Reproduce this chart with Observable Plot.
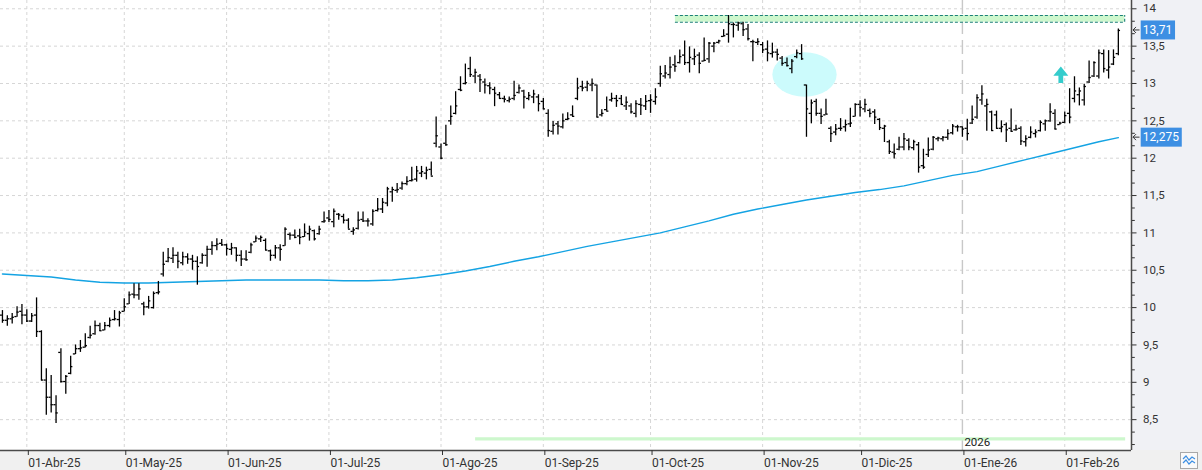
<!DOCTYPE html>
<html><head><meta charset="utf-8">
<script src="https://cdn.jsdelivr.net/npm/d3@7"></script>
<script src="https://cdn.jsdelivr.net/npm/@observablehq/plot@0.6"></script>
<style>html,body{margin:0;padding:0;background:#fff;} svg{display:block}</style>
</head><body><div id="chart"></div>
<script>
// ---- Daily OHLC (one value per trading day, 25-Mar-2025 .. 17-Feb-2026) ----
const high = [
9.96,9.89,9.92,10.01,10.04,9.97,9.92,10.13,9.69,9.18,
9.09,8.82,9.45,9.09,9.35,9.50,9.56,9.65,9.75,9.82,
9.79,9.80,9.86,9.96,9.95,10.12,10.21,10.32,10.32,10.07,
10.15,10.21,10.35,10.74,10.79,10.80,10.74,10.74,10.72,10.70,
10.68,10.72,10.82,10.88,10.92,10.91,10.85,10.86,10.80,10.76,
10.76,10.86,10.96,10.96,10.92,10.77,10.83,10.84,11.07,11.00,
11.04,11.05,11.12,11.09,11.04,11.09,11.28,11.30,11.32,11.26,
11.25,11.19,11.07,11.28,11.28,11.19,11.31,11.46,11.46,11.61,
11.61,11.66,11.68,11.75,11.88,11.89,11.89,11.88,11.95,12.55,
12.19,12.44,12.70,12.89,13.09,13.26,13.35,13.19,13.12,13.06,
13.01,12.95,12.88,12.83,12.82,13.03,12.98,12.91,12.88,12.91,
12.85,12.80,12.65,12.49,12.49,12.59,12.61,12.70,13.07,13.03,
13.03,13.06,12.98,12.65,12.82,12.87,12.84,12.84,12.82,12.73,
12.77,12.80,12.84,12.85,12.93,13.23,13.24,13.35,13.37,13.45,
13.57,13.49,13.46,13.41,13.61,13.55,13.55,13.58,13.72,13.91,
13.81,13.82,13.82,13.79,13.58,13.60,13.55,13.57,13.54,13.46,
13.36,13.34,13.32,13.45,13.52,12.98,12.78,12.79,12.66,12.79,
12.42,12.45,12.53,12.51,12.67,12.73,12.77,12.79,12.66,12.65,
12.53,12.44,12.24,12.19,12.28,12.33,12.26,12.24,12.21,12.12,
12.27,12.29,12.28,12.29,12.38,12.45,12.44,12.42,12.52,12.70,
12.85,12.97,12.79,12.63,12.63,12.50,12.47,12.66,12.44,12.42,
12.30,12.42,12.38,12.50,12.51,12.73,12.65,12.48,12.62,12.93,
13.09,12.94,12.99,13.30,13.29,13.45,13.45,13.44,13.45,13.73
];
const low = [
9.79,9.75,9.78,9.87,9.77,9.80,9.80,9.60,9.02,8.56,
8.59,8.45,8.99,8.84,9.10,9.37,9.40,9.46,9.58,9.63,
9.68,9.69,9.73,9.82,9.74,9.94,10.04,10.12,10.10,9.89,
9.98,9.98,10.17,10.41,10.60,10.59,10.52,10.56,10.58,10.50,
10.30,10.58,10.54,10.70,10.76,10.82,10.69,10.70,10.61,10.55,
10.62,10.72,10.87,10.87,10.76,10.62,10.65,10.62,10.82,10.90,
10.92,10.84,10.94,10.89,10.89,10.97,11.13,11.14,11.07,11.17,
11.12,11.05,10.97,11.04,11.14,11.08,11.09,11.28,11.26,11.35,
11.41,11.53,11.57,11.63,11.68,11.68,11.74,11.71,11.76,12.14,
11.98,12.16,12.44,12.58,12.89,12.98,13.08,13.00,12.88,12.86,
12.85,12.69,12.79,12.74,12.74,12.77,12.86,12.66,12.77,12.73,
12.62,12.65,12.28,12.31,12.31,12.39,12.50,12.55,12.77,12.89,
12.89,12.89,12.54,12.55,12.63,12.75,12.68,12.71,12.64,12.59,
12.54,12.57,12.64,12.60,12.71,12.95,13.06,13.06,13.15,13.26,
13.24,13.14,13.24,13.13,13.29,13.27,13.41,13.53,13.62,13.54,
13.61,13.70,13.63,13.57,13.29,13.51,13.40,13.29,13.34,13.30,
13.23,13.22,13.13,13.33,13.31,12.28,12.46,12.56,12.45,12.58,
12.21,12.30,12.36,12.35,12.41,12.55,12.55,12.61,12.54,12.45,
12.37,12.21,12.05,11.99,12.10,12.10,12.10,12.10,11.80,11.85,
12.01,12.10,12.22,12.22,12.24,12.31,12.35,12.28,12.23,12.45,
12.52,12.71,12.36,12.36,12.39,12.34,12.21,12.35,12.36,12.17,
12.15,12.26,12.27,12.35,12.36,12.48,12.38,12.44,12.46,12.46,
12.74,12.70,12.70,13.00,13.08,13.06,13.14,13.06,13.24,13.37
];
const open = [
9.90,9.83,9.85,9.88,9.95,9.90,9.82,9.90,9.68,9.03,
8.80,8.70,9.40,9.01,9.12,9.38,9.45,9.47,9.60,9.65,
9.76,9.70,9.76,9.84,9.84,9.95,10.05,10.18,10.17,10.05,
10.01,10.00,10.20,10.45,10.62,10.66,10.70,10.60,10.68,10.65,
10.62,10.60,10.70,10.78,10.83,10.86,10.84,10.78,10.80,10.70,
10.65,10.74,10.88,10.92,10.90,10.76,10.70,10.80,10.83,10.98,
10.97,10.96,10.95,10.99,11.03,10.99,11.15,11.20,11.15,11.25,
11.22,11.17,11.02,11.06,11.18,11.16,11.12,11.30,11.32,11.40,
11.55,11.57,11.60,11.66,11.70,11.72,11.80,11.80,11.85,12.20,
12.15,12.20,12.50,12.60,12.92,13.00,13.20,13.10,13.10,13.02,
12.97,12.92,12.85,12.80,12.77,12.80,12.88,12.90,12.80,12.82,
12.82,12.76,12.60,12.36,12.46,12.42,12.52,12.58,12.80,12.96,
12.95,12.98,12.98,12.58,12.65,12.78,12.80,12.80,12.70,12.70,
12.60,12.72,12.70,12.77,12.76,13.00,13.10,13.12,13.25,13.28,
13.38,13.28,13.33,13.38,13.30,13.33,13.50,13.55,13.63,13.66,
13.79,13.78,13.80,13.73,13.56,13.55,13.52,13.46,13.40,13.42,
13.34,13.28,13.20,13.36,13.40,12.98,12.60,12.76,12.60,12.58,
12.40,12.35,12.40,12.42,12.46,12.56,12.72,12.66,12.64,12.62,
12.52,12.40,12.22,12.08,12.12,12.15,12.24,12.14,12.18,11.90,
12.05,12.12,12.26,12.26,12.28,12.34,12.42,12.42,12.40,12.47,
12.55,12.78,12.70,12.62,12.58,12.40,12.45,12.40,12.38,12.40,
12.22,12.28,12.33,12.37,12.46,12.50,12.60,12.45,12.48,12.60,
12.80,12.85,12.78,13.02,13.10,13.10,13.40,13.18,13.26,13.40
];
const close = [
9.83,9.85,9.87,9.94,9.90,9.82,9.89,9.68,9.03,8.80,
8.70,8.59,9.01,9.08,9.21,9.45,9.46,9.49,9.63,9.76,
9.69,9.76,9.83,9.85,9.93,10.01,10.17,10.17,10.25,10.01,
10.09,10.19,10.21,10.58,10.67,10.70,10.62,10.68,10.65,10.62,
10.55,10.70,10.78,10.83,10.85,10.84,10.79,10.80,10.70,10.65,
10.64,10.84,10.93,10.94,10.77,10.70,10.80,10.78,11.05,10.97,
10.94,10.94,11.01,11.05,10.92,11.05,11.16,11.18,11.29,11.24,
11.17,11.05,11.04,11.17,11.16,11.16,11.29,11.32,11.41,11.59,
11.58,11.58,11.66,11.69,11.71,11.83,11.82,11.84,11.76,12.30,
12.00,12.18,12.56,12.70,12.91,13.01,13.12,13.15,13.05,12.98,
12.94,12.87,12.80,12.79,12.79,12.84,12.94,12.82,12.84,12.86,
12.73,12.66,12.37,12.44,12.43,12.50,12.53,12.56,12.94,12.94,
13.00,13.00,12.55,12.60,12.63,12.80,12.77,12.72,12.75,12.62,
12.73,12.71,12.76,12.78,12.82,13.13,13.14,13.22,13.23,13.36,
13.28,13.35,13.36,13.27,13.31,13.54,13.54,13.57,13.64,13.80,
13.79,13.81,13.72,13.60,13.56,13.56,13.45,13.41,13.42,13.39,
13.27,13.24,13.30,13.41,13.33,12.66,12.74,12.60,12.56,12.59,
12.33,12.39,12.40,12.45,12.47,12.72,12.68,12.72,12.60,12.55,
12.41,12.43,12.09,12.06,12.15,12.26,12.15,12.22,11.88,11.88,
12.11,12.28,12.27,12.28,12.33,12.43,12.42,12.39,12.33,12.52,
12.81,12.86,12.72,12.37,12.40,12.42,12.38,12.36,12.39,12.23,
12.26,12.35,12.35,12.48,12.50,12.62,12.39,12.47,12.57,12.55,
12.90,12.90,12.96,13.08,13.28,13.41,13.20,13.22,13.35,13.71
];

// ---- Moving average (read at every 5th bar) ----
const maIdx = [0,5,10,15,20,25,30,35,40,45,50,55,60,65,70,75,80,85,90,95,100,105,110,115,120,125,130,135,140,145,150,155,160,165,170,175,180,185,190,195,200,205,210,215,220,225,229];
const maVal = [10.45,10.43,10.41,10.37,10.34,10.33,10.33,10.34,10.35,10.36,10.37,10.37,10.37,10.37,10.36,10.36,10.37,10.40,10.44,10.49,10.55,10.62,10.68,10.75,10.82,10.88,10.94,11.00,11.08,11.16,11.25,11.32,11.38,11.44,11.49,11.54,11.58,11.63,11.70,11.77,11.82,11.90,11.98,12.06,12.14,12.22,12.275];

// ---- Axes ----
const monthIdx = [5,25,46,67,90,111,133,156,176,197,218];
const monthLabels = ["01-Abr-25","01-May-25","01-Jun-25","01-Jul-25","01-Ago-25","01-Sep-25","01-Oct-25","01-Nov-25","01-Dic-25","01-Ene-26","01-Feb-26"];
const yTicks = [8.5,9,9.5,10,10.5,11,11.5,12,12.5,13,13.5,14];
const lastLabels = [13.71, 12.275];

// ---- Annotations ----
const bandIdx = [138.1, 230.3];      // resistance band, bar index range
const bandVal = [13.82, 13.91];      // resistance band, price range
const yearBarIdx = [97.1, 230.5];
const yearBarVal = 8.243;
const yearMarkIdx = 197;
const yearLabel = "2026";
const ellipseAt = [164.7, 13.114];
const ellipseSpan = [6.6, 0.297];
const arrowIdx = 217.3;
const arrowVals = [13.0, 13.22];

const xDomain = [-0.4, 231.7];
const yDomain = [8.087, 14.111];

const fmt = v => String(v).replace(".", ",");
const bars = high.map((h, i) => ({i, h, l: low[i], o: open[i], c: close[i]}));
const ma = maIdx.map((i, k) => ({i, v: maVal[k]}));
const minorTicks = d3.range(8.1667, 14.12, 1/6).filter(v => yTicks.every(t => Math.abs(t - v) > 0.01));

const measure = (() => { const c = document.createElement("canvas").getContext("2d"); return (t, f) => { c.font = f; return c.measureText(t).width; }; })();

const chart = Plot.plot({
  width: 1202, height: 470,
  marginLeft: 0, marginRight: 71, marginTop: 0, marginBottom: 20,
  x: {type: "linear", domain: xDomain},
  y: {domain: yDomain},
  style: {fontFamily: "Roboto", fontSize: "12px", color: "#222", background: "#fff", overflow: "visible"},
  marks: [
    // panels
    (index, scales, values, dims) => {
      const g = d3.create("svg:g");
      g.append("rect").attr("x", dims.width - dims.marginRight).attr("y", 0)
        .attr("width", dims.marginRight).attr("height", dims.height).attr("fill", "#f0f1f5");
      g.append("rect").attr("x", 0).attr("y", dims.height - dims.marginBottom)
        .attr("width", dims.width).attr("height", dims.marginBottom).attr("fill", "#f0f0f0");
      return g.node();
    },
    Plot.ruleY(yTicks, {stroke: "#d6d6d6", strokeDasharray: "3,3"}),
    Plot.ruleX(monthIdx.filter(d => d !== yearMarkIdx), {stroke: "#d6d6d6", strokeDasharray: "3,3"}),
    Plot.ruleX([yearMarkIdx], {stroke: "#c8c8c8", strokeWidth: 1.4, strokeDasharray: "14,6"}),
    // ellipse highlight
    (index, {x, y}) => {
      const cx = x(ellipseAt[0]), cy = y(ellipseAt[1]);
      const rx = x(ellipseAt[0] + ellipseSpan[0]) - cx, ry = cy - y(ellipseAt[1] + ellipseSpan[1]);
      return d3.create("svg:ellipse").attr("cx", cx).attr("cy", cy).attr("rx", rx).attr("ry", ry)
        .attr("fill", "#ccfbfc").node();
    },
    // resistance band
    Plot.rect([0], {x1: bandIdx[0], x2: bandIdx[1], y1: bandVal[0], y2: bandVal[1], fill: "#cdf7cd"}),
    Plot.ruleY(bandVal, {x1: bandIdx[0], x2: bandIdx[1], stroke: "#1b7f78", strokeDasharray: "3,2", strokeWidth: 1.1}),
    Plot.ruleX([bandIdx[1]], {y1: bandVal[0], y2: bandVal[1], stroke: "#1b7f78", strokeDasharray: "3,2", strokeWidth: 1.1}),
    // bottom year bar
    Plot.ruleY([yearBarVal], {x1: yearBarIdx[0], x2: yearBarIdx[1], stroke: "#cdf7cd", strokeWidth: 3.3}),
    // moving average
    Plot.line(ma, {x: "i", y: "v", stroke: "#14a3e3", strokeWidth: 1.4}),
    // OHLC bars
    Plot.ruleX(bars, {x: "i", y1: "l", y2: "h", stroke: "#000", strokeWidth: 1.3}),
    Plot.ruleY(bars, {y: "o", x1: d => d.i - 0.45, x2: "i", stroke: "#000", strokeWidth: 1.3}),
    Plot.ruleY(bars, {y: "c", x1: "i", x2: d => d.i + 0.45, stroke: "#000", strokeWidth: 1.3}),
    // arrow
    (index, {x, y}) => {
      const cx = x(arrowIdx), by = y(arrowVals[0]), ty = y(arrowVals[1]);
      const hy = ty + 9.3;
      return d3.create("svg:path")
        .attr("d", `M${cx},${ty}L${cx+7.5},${hy}L${cx+2.4},${hy}L${cx+2.4},${by}L${cx-2.4},${by}L${cx-2.4},${hy}L${cx-7.5},${hy}Z`)
        .attr("fill", "#35cccc").node();
    },
    Plot.text([yearLabel], {x: yearMarkIdx, y: 8.2, text: d => d, textAnchor: "start", dx: 2, fontSize: 11.5, fill: "#222"}),
    // axis lines
    Plot.ruleX([xDomain[1]], {stroke: "#4a4a4a", strokeWidth: 1.5}),
    Plot.ruleY([yDomain[0]], {stroke: "#4a4a4a", strokeWidth: 1.5}),
    Plot.axisY(yTicks, {anchor: "right", tickSize: 4.5, tickPadding: 7, tickFormat: fmt, fontSize: 11.5, label: null, color: "#333"}),
    Plot.axisY(minorTicks, {anchor: "right", tickSize: 2.8, tickFormat: () => "", label: null, color: "#333"}),
    Plot.axisX(monthIdx, {tickSize: 5, tickPadding: 3, textAnchor: "start", dx: 1.5,
      tickFormat: d => monthLabels[monthIdx.indexOf(d)], fontSize: 12, label: null, color: "#333"}),
    // last value labels
    (index, {y}, values, dims) => {
      const g = d3.create("svg:g");
      const x0 = dims.width - dims.marginRight;
      for (const v of lastLabels) {
        const yy = y(v), t = fmt(v);
        const w = measure(t, "12px Roboto") + 5;
        g.append("path").attr("d", `M${x0+8.5},${yy}H${x0+2}M${x0+5},${yy-3}L${x0+2},${yy}L${x0+5},${yy+3}`)
          .attr("fill", "none").attr("stroke", "#333").attr("stroke-width", 1);
        g.append("rect").attr("x", x0 + 9.7).attr("y", yy - 9.5).attr("width", w).attr("height", 19).attr("fill", "#3d8fe3");
        g.append("text").attr("x", x0 + 11.8).attr("y", yy).attr("dy", "0.36em").attr("fill", "#fff")
          .attr("text-anchor", "start").attr("font-family", "Roboto").attr("font-size", 12).text(t);
      }
      return g.node();
    },
    // corner icon
    (index, scales, values, dims) => {
      const g = d3.create("svg:g").attr("transform", `translate(${dims.width - 22},${dims.height - 18})`);
      g.append("rect").attr("x", 0.5).attr("y", 0.5).attr("width", 17).attr("height", 16).attr("fill", "#fafafa").attr("stroke", "#a8a8a8");
      g.append("path").attr("d", "M3,7L6,4L9,8L12,5L15,7M3,11L6,8L9,12L12,9L15,11").attr("fill", "none").attr("stroke", "#3d8fe3").attr("stroke-width", 1.2);
      return g.node();
    }
  ]
});
document.getElementById("chart").appendChild(chart);
</script>
</body></html>
